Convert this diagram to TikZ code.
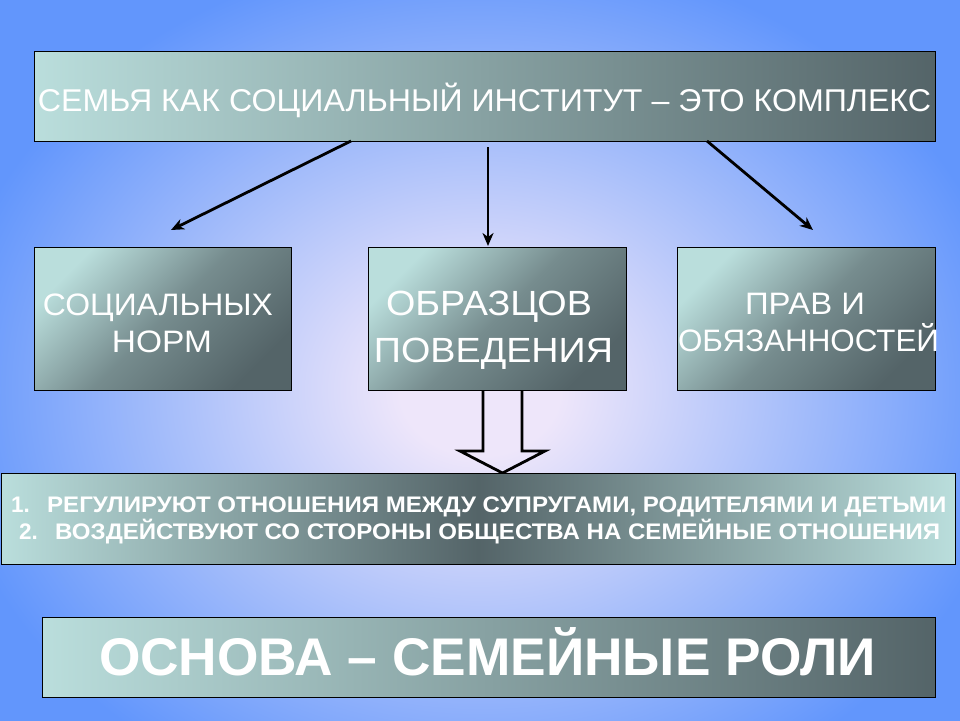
\documentclass[tikz,border=0pt]{standalone}
\usepackage{fontspec}
\setmainfont{Liberation Sans}
\usepackage{graphicx}
\usetikzlibrary{arrows.meta}
\definecolor{bgblue}{RGB}{98,150,252}
\definecolor{bgmid}{RGB}{170,192,250}
\definecolor{bglav}{RGB}{238,230,250}
\definecolor{boxlight}{RGB}{186,222,220}
\definecolor{boxmid}{RGB}{118,140,142}
\definecolor{boxdark}{RGB}{84,100,104}
\pgfdeclareradialshading{bgshade}{\pgfpoint{0bp}{0bp}}{color(0bp)=(bglav); color(4bp)=(bglav); color(15bp)=(bgmid); color(27bp)=(bgblue); color(100bp)=(bgblue)}
\newcommand\fitw[2]{\resizebox{#1}{\height}{#2}}
\begin{document}
\begin{tikzpicture}[x=1pt,y=-1pt,
  box/.style={draw=black, line width=0.9pt, inner sep=0pt, outer sep=0pt},
  hgrad/.style={left color=boxlight, right color=boxdark},
  dgrad/.style={top color=boxlight, bottom color=boxdark, middle color=boxmid, shading angle=45},
  mgrad/.style={left color=boxlight, right color=boxlight, middle color=boxdark},
  txt/.style={text=white, inner sep=0pt, anchor=base},
  conn/.style={line width=2.8pt, -{Stealth[length=13pt,width=11pt,inset=4pt]}},
  blockarrow/.style={line width=2.8pt, line join=miter}]
\useasboundingbox (0,0) rectangle (960,720);
% background
\fill[bgblue] (0,0) rectangle (960,720);
\begin{scope}
\clip (0,0) rectangle (960,720);
\shade[shading=bgshade] (-20,-20) rectangle (980,800);
\end{scope}
% boxes
\node[box, hgrad, minimum width=901pt, minimum height=90pt] (top) at (484.5,96) {};
\node[box, dgrad, minimum width=257pt, minimum height=143pt] (left) at (162.5,318.5) {};
\node[box, dgrad, minimum width=258pt, minimum height=143pt] (mid) at (497,318.5) {};
\node[box, dgrad, minimum width=258pt, minimum height=143pt] (right) at (806,318.5) {};
% block arrow
\coordinate (ba1) at (483,390);
\coordinate (ba2) at (522,390);
\coordinate (batip) at (502.5,473);
\draw[blockarrow] (ba1) -- (483,451) -- (460,451) -- (batip) -- (545,451) -- (522,451) -- (ba2);
\node[box, mgrad, minimum width=954pt, minimum height=91pt] (list) at (478,518.5) {};
\node[box, hgrad, minimum width=893pt, minimum height=80pt] (base) at (488.5,657) {};
% texts
\node[txt] (toptext) at (484.5,111) {\fontsize{31.5}{36}\selectfont\fitw{893pt}{СЕМЬЯ КАК СОЦИАЛЬНЫЙ ИНСТИТУТ – ЭТО КОМПЛЕКС}};
\node[txt] (l1) at (158,315) {\fontsize{31}{36}\selectfont\fitw{230pt}{СОЦИАЛЬНЫХ}};
\node[txt] (l2) at (162,352) {\fontsize{31}{36}\selectfont\fitw{100pt}{НОРМ}};
\node[txt] (m1) at (489,315) {\fontsize{35}{40}\selectfont\fitw{206pt}{ОБРАЗЦОВ}};
\node[txt] (m2) at (493.5,362) {\fontsize{35}{40}\selectfont\fitw{239pt}{ПОВЕДЕНИЯ}};
\node[txt] (r1) at (805,314) {\fontsize{31}{36}\selectfont\fitw{120pt}{ПРАВ И}};
\node[txt] (r2) at (808.5,351) {\fontsize{31}{36}\selectfont\fitw{261pt}{ОБЯЗАННОСТЕЙ}};
\node[txt, anchor=base west] (li1) at (11,512) {\fontsize{22.5}{26}\selectfont\bfseries\makebox[36pt][l]{1.}\fitw{899pt}{РЕГУЛИРУЮТ ОТНОШЕНИЯ МЕЖДУ СУПРУГАМИ, РОДИТЕЛЯМИ И ДЕТЬМИ}};
\node[txt, anchor=base west] (li2) at (19,539) {\fontsize{22.5}{26}\selectfont\bfseries\makebox[36pt][l]{2.}\fitw{885pt}{ВОЗДЕЙСТВУЮТ СО СТОРОНЫ ОБЩЕСТВА НА СЕМЕЙНЫЕ ОТНОШЕНИЯ}};
\node[txt] (basetext) at (487.5,675) {\fontsize{53}{60}\selectfont\bfseries\fitw{777pt}{ОСНОВА – СЕМЕЙНЫЕ РОЛИ}};
% connectors
\coordinate (t1) at (171,230);
\coordinate (s2) at (488,147);
\coordinate (t2) at (488,246);
\coordinate (t3) at (813,230);
\draw[conn] ([xshift=-133.5pt]top.south) -- (t1);
\draw[conn] (s2) -- (t2);
\draw[conn] ([xshift=222.5pt]top.south) -- (t3);
\end{tikzpicture}
\end{document}
